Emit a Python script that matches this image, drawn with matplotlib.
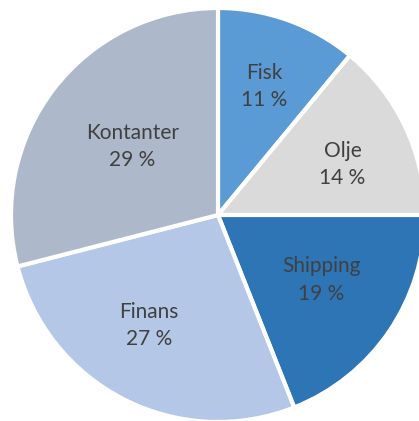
import numpy as np
import matplotlib
matplotlib.use('Agg')
import matplotlib.pyplot as plt

labels = ['Fisk', 'Olje', 'Shipping', 'Finans', 'Kontanter']
shares = [11, 14, 19, 27, 29]
colors = ['#5B9BD5', '#DADADA', '#2E75B6', '#B4C7E7', '#ADB9CA']
# label placement: distance from centre (fraction of radius) and angle tweak (deg)
label_r = [0.66, 0.65, 0.59, 0.63, 0.53]
label_da = [0, -3, 2, -5, -1]

plt.rcParams['font.family'] = ['Lato', 'DejaVu Sans']

fig = plt.figure(figsize=(4.19, 4.21), dpi=100)
W, H = 419, 421
cx, cy, r = 218, 215, 207
ax = fig.add_axes([(cx - r) / W, (H - cy - r) / H, 2 * r / W, 2 * r / H])

wedges, _ = ax.pie(shares, colors=colors, startangle=90, counterclock=False,
                   radius=1, wedgeprops=dict(edgecolor='white', linewidth=3))

for w, name, s, d, da in zip(wedges, labels, shares, label_r, label_da):
    mid = np.deg2rad((w.theta1 + w.theta2) / 2 + da)
    ax.text(d * np.cos(mid), d * np.sin(mid), f'{name}\n{s} %',
            ha='center', va='center', fontsize=15, color='#404040',
            linespacing=1.45)

ax.set_xlim(-1, 1)
ax.set_ylim(-1, 1)
ax.set_aspect('equal')
ax.axis('off')

fig.savefig('out.png', dpi=100)
